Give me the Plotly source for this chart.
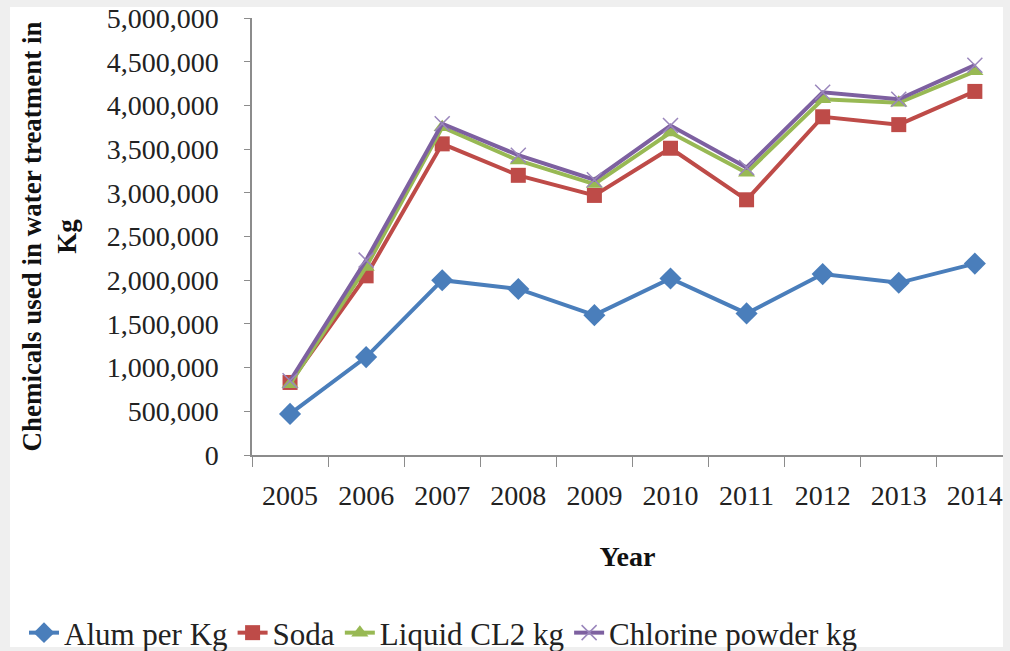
import plotly.graph_objects as go

years = ["2005", "2006", "2007", "2008", "2009", "2010", "2011", "2012", "2013", "2014"]
alum = [470000, 1120000, 2000000, 1900000, 1600000, 2020000, 1620000, 2070000, 1970000, 2190000]
soda = [830000, 2050000, 3560000, 3200000, 2970000, 3510000, 2920000, 3870000, 3780000, 4160000]
liquid_cl2 = [810000, 2150000, 3750000, 3370000, 3100000, 3690000, 3230000, 4070000, 4030000, 4390000]
chlorine_powder = [850000, 2230000, 3790000, 3430000, 3150000, 3770000, 3290000, 4150000, 4070000, 4460000]
y_ticks = [0, 500000, 1000000, 1500000, 2000000, 2500000, 3000000, 3500000, 4000000, 4500000, 5000000]

W, H = 1010, 651
L, R, T, B = 252, 7, 18, 196
PW, PH = W - L - R, H - T - B

FONT = "Liberation Serif, Times New Roman, serif"

series = [
    ("Alum per Kg", alum, "#4A7EBB", dict(symbol="diamond", size=17)),
    ("Soda", soda, "#BE4B48", dict(symbol="square", size=15)),
    ("Liquid CL2 kg", liquid_cl2, "#98B954", dict(symbol="triangle-up", size=15)),
    ("Chlorine powder kg", chlorine_powder, "#7D60A0",
     dict(symbol="x-thin", size=15, line=dict(width=1.5, color="#9A86BC"))),
]

fig = go.Figure()
for name, vals, color, marker in series:
    m = dict(color=color, **marker)
    fig.add_trace(go.Scatter(
        x=years, y=vals, name=name, mode="lines+markers",
        line=dict(color=color, width=4), marker=m,
    ))


def px_x(p):
    return (p - L) / PW


def px_y(p):
    return (T + PH - p) / PH


# light grey frame around a white chart area
fig.add_shape(type="rect", xref="paper", yref="paper", layer="below",
              x0=px_x(10), x1=px_x(1003), y0=px_y(647), y1=px_y(7),
              fillcolor="white", line=dict(width=0))

fig.update_layout(
    width=W, height=H,
    margin=dict(l=L, r=R, t=T, b=B, autoexpand=False),
    paper_bgcolor="#EFEFEF",
    plot_bgcolor="white",
    font=dict(family=FONT, color="#222222"),
    showlegend=True,
    legend=dict(
        orientation="h", xref="paper", yref="paper",
        x=px_x(24), xanchor="left", y=px_y(633), yanchor="middle",
        font=dict(family=FONT, size=31, color="#222222"),
        bgcolor="rgba(0,0,0,0)", itemwidth=30, tracegroupgap=0,
    ),
)

fig.update_xaxes(
    type="category", range=[-0.5, 9.37],
    tickson="boundaries", ticks="outside", ticklen=10, tickcolor="#8C8C8C",
    showline=True, linecolor="#8C8C8C", linewidth=1.5,
    showgrid=False, zeroline=False,
    tickfont=dict(family=FONT, size=28, color="#222222"),
    ticklabelstandoff=15,
    title=dict(text="<b>Year</b>", font=dict(family=FONT, size=28, color="#111111"), standoff=36),
)

fig.update_yaxes(
    range=[0, 5000000], tickvals=y_ticks,
    ticktext=[f"{v:,}" for v in y_ticks],
    ticks="outside", ticklen=6, tickcolor="#8C8C8C",
    showline=True, linecolor="#8C8C8C", linewidth=1.5,
    showgrid=False, zeroline=False,
    tickfont=dict(family=FONT, size=28, color="#222222"),
    ticklabelstandoff=20,
    title=dict(text="<b>Chemicals used in water treatment in<br>Kg</b>",
               font=dict(family=FONT, size=27, color="#111111"), standoff=22),
)

fig.write_html("out.html")
